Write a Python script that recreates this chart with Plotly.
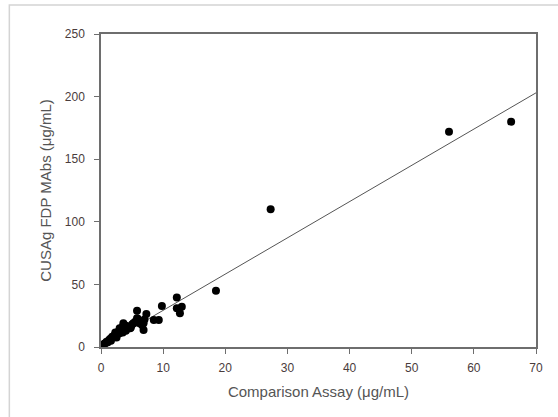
import plotly.graph_objects as go

# Data
comparison_assay = [0.2, 0.4, 0.5, 0.7, 0.9, 1.1, 1.3, 1.5, 1.6, 1.8, 2.0, 2.2, 2.3, 2.4, 2.5,
                    2.6, 2.8, 3.0, 3.0, 3.2, 3.4, 3.5, 3.6, 3.8, 4.0, 4.0, 4.2, 4.4, 4.7,
                    4.8, 5.0, 5.2, 5.5, 5.8, 5.8, 5.9, 6.05, 6.2, 6.6, 6.85, 6.85, 7.0, 7.3,
                    8.5, 9.3, 9.8, 12.2, 12.2, 12.7, 13.0, 18.5, 27.3, 56.0, 66.0]
cusag_fdp = [0.8, 1.5, 2.5, 3.0, 4.2, 3.8, 5.5, 6.5, 5.0, 8.2, 7.5, 9.5, 11.5, 8.5, 7.6,
             10.0, 12.2, 14.9, 11.0, 12.5, 15.5, 11.5, 18.9, 14.0, 17.0, 13.0, 14.5, 16.2,
             14.9, 15.5, 18.0, 18.9, 20.2, 29.0, 22.9, 22.6, 21.0, 18.9, 17.6, 13.6, 18.9,
             22.0, 26.4, 21.6, 21.6, 32.7, 39.5, 30.9, 26.9, 32.2, 45.0, 110.0, 172.0, 180.0]
fit_x = [0, 70]
fit_y = [0.3, 203.0]

x_ticks = [0, 10, 20, 30, 40, 50, 60, 70]
y_ticks = [0, 50, 100, 150, 200, 250]

fig = go.Figure()
fig.add_trace(go.Scatter(x=fit_x, y=fit_y, mode="lines",
                         line=dict(color="#555555", width=1), showlegend=False))
fig.add_trace(go.Scatter(x=comparison_assay, y=cusag_fdp, mode="markers",
                         marker=dict(color="black", size=8), showlegend=False))

axis_common = dict(showgrid=False, zeroline=False, showline=True, mirror=True,
                   linecolor="#6e6e6e", linewidth=1.5, ticks="outside", ticklen=5,
                   tickcolor="#6e6e6e", tickwidth=1, automargin=False,
                   tickfont=dict(family="Liberation Sans, Arial", size=12, color="#4a3c3c"))

fig.update_xaxes(range=[0, 70], tickvals=x_ticks, ticklabelstandoff=4, **axis_common,
                 title=dict(text="Comparison Assay (μg/mL)", standoff=12,
                            font=dict(family="Liberation Sans, Arial", size=15, color="#555555")))
fig.update_yaxes(range=[0, 250], tickvals=y_ticks, ticklabelstandoff=7, **axis_common,
                 title=dict(text="CUSAg FDP MAbs (μg/mL)", standoff=10,
                            font=dict(family="Liberation Sans, Arial", size=15, color="#555555")))

fig.add_shape(type="rect", xref="paper", yref="paper",
              x0=-0.2107, x1=1.06, y0=-0.25, y1=1.0927,
              line=dict(color="#d4d4d4", width=1.5), fillcolor="rgba(0,0,0,0)", layer="below")

fig.update_layout(width=558, height=417, margin=dict(l=101, r=22, t=34, b=70),
                  plot_bgcolor="white", paper_bgcolor="white")

fig.write_html("out.html", config={"displayModeBar": False},
               post_script="document.body.style.margin='0px';document.body.style.padding='0px';")
